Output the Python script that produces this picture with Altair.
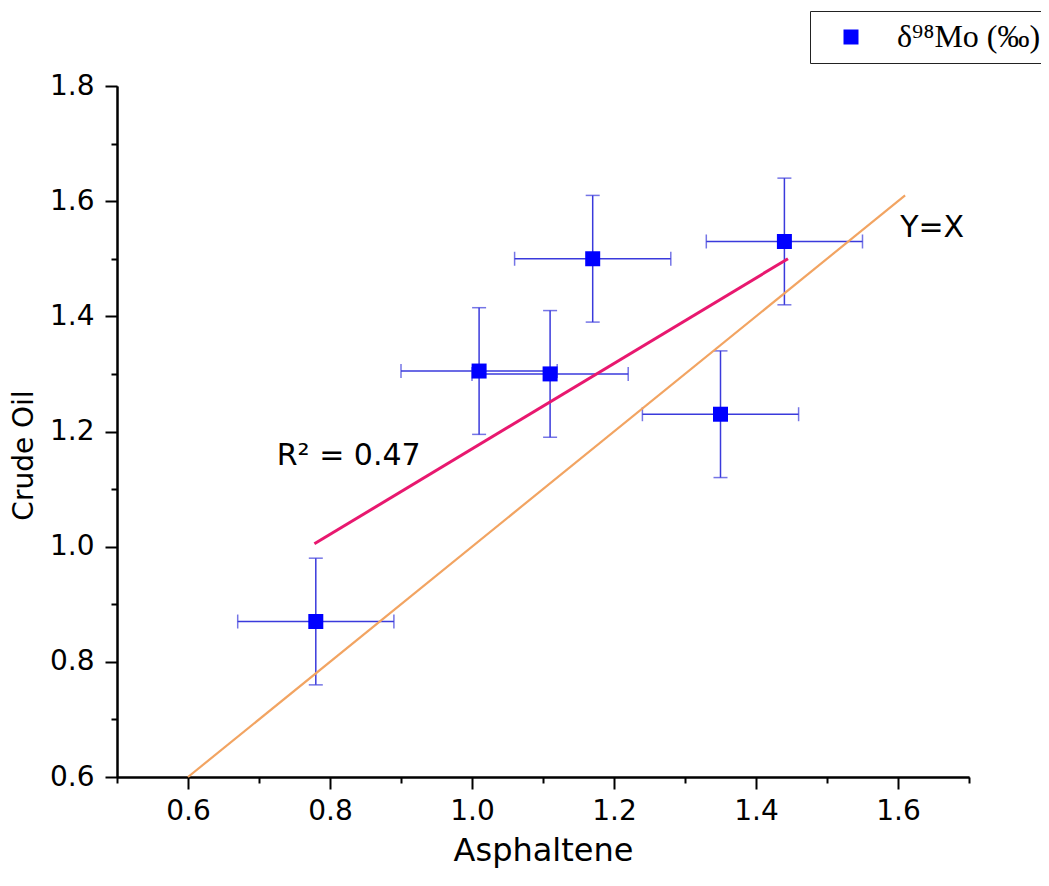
import altair as alt
import pandas as pd

# ---- data ----
asph = [0.78, 1.01, 1.11, 1.17, 1.35, 1.44]          # x: Asphaltene δ98Mo
crude = [0.87, 1.305, 1.30, 1.50, 1.23, 1.53]        # y: Crude oil δ98Mo
asph_err = [0.11, 0.11, 0.11, 0.11, 0.11, 0.11]
crude_err = [0.11, 0.11, 0.11, 0.11, 0.11, 0.11]
series_name = "δ⁹⁸Mo (‰)"

fit_x = [0.778, 1.445]        # regression line ends
fit_y = [1.005, 1.500]
yx_x = [0.6, 1.61]            # Y = X reference line
yx_y = [0.6, 1.61]

ann_text = ["R² = 0.47", "Y=X"]
ann_x = [0.725, 1.603]
ann_y = [1.142, 1.538]

x_major = [0.6, 0.8, 1.0, 1.2, 1.4, 1.6]
x_minor = [0.5, 0.7, 0.9, 1.1, 1.3, 1.5, 1.7]
y_major = [0.6, 0.8, 1.0, 1.2, 1.4, 1.6, 1.8]
y_minor = [0.7, 0.9, 1.1, 1.3, 1.5, 1.7]

# ---- tables ----
df = pd.DataFrame({"asph": asph, "crude": crude, "ex": asph_err, "ey": crude_err,
                   "series": [series_name] * len(asph)})
df["xlo"] = df["asph"] - df["ex"]
df["xhi"] = df["asph"] + df["ex"]
df["ylo"] = df["crude"] - df["ey"]
df["yhi"] = df["crude"] + df["ey"]
df_fit = pd.DataFrame({"x": fit_x, "y": fit_y})
df_yx = pd.DataFrame({"x": yx_x, "y": yx_y})
df_ann = pd.DataFrame({"x": ann_x, "y": ann_y, "t": ann_text})

FONT = "DejaVu Sans"
xsc = alt.Scale(domain=[0.5, 1.7], nice=False, zero=False)
ysc = alt.Scale(domain=[0.6, 1.8], nice=False, zero=False)

x_major_axis = alt.Axis(orient="bottom", values=x_major, format=".1f", grid=False,
                        tickSize=12, tickWidth=2, tickColor="black",
                        domainWidth=2, domainColor="black",
                        labelFont=FONT, labelFontSize=28, labelColor="black", labelPadding=8,
                        title="Asphaltene", titleFont=FONT, titleFontSize=32,
                        titleFontWeight="normal", titleColor="black", titlePadding=10)
y_major_axis = alt.Axis(orient="left", values=y_major, format=".1f", grid=False,
                        tickSize=12, tickWidth=2, tickColor="black",
                        domainWidth=2, domainColor="black",
                        labelFont=FONT, labelFontSize=28, labelColor="black", labelPadding=11,
                        title="Crude Oil", titleFont=FONT, titleFontSize=28,
                        titleFontWeight="normal", titleColor="black", titlePadding=11,
                        titleY=369)
x_minor_axis = alt.Axis(orient="bottom", values=x_minor, labels=False, grid=False,
                        tickSize=6, tickWidth=2, tickColor="black",
                        domainWidth=2, domainColor="black", title=None)
y_minor_axis = alt.Axis(orient="left", values=y_minor, labels=False, grid=False,
                        tickSize=6, tickWidth=2, tickColor="black",
                        domainWidth=2, domainColor="black", title=None)

ERR = "#3A3ADC"

# axis carriers
major = alt.Chart(df_yx).mark_point(opacity=0).encode(
    x=alt.X("x:Q", scale=xsc, axis=x_major_axis),
    y=alt.Y("y:Q", scale=ysc, axis=y_major_axis))
minor = alt.Chart(df_yx).mark_point(opacity=0).encode(
    x=alt.X("x:Q", scale=xsc, axis=x_minor_axis),
    y=alt.Y("y:Q", scale=ysc, axis=y_minor_axis))

base = alt.Chart(df)
h_bar = base.mark_rule(color=ERR, strokeWidth=1.5).encode(
    x=alt.X("xlo:Q", scale=xsc, axis=None), x2="xhi:Q",
    y=alt.Y("crude:Q", scale=ysc, axis=None))
v_bar = base.mark_rule(color=ERR, strokeWidth=1.5).encode(
    x=alt.X("asph:Q", scale=xsc, axis=None),
    y=alt.Y("ylo:Q", scale=ysc, axis=None), y2="yhi:Q")
cap_l = base.mark_tick(orient="vertical", color=ERR, size=14, thickness=1.5).encode(
    x=alt.X("xlo:Q", scale=xsc, axis=None), y=alt.Y("crude:Q", scale=ysc, axis=None))
cap_r = base.mark_tick(orient="vertical", color=ERR, size=14, thickness=1.5).encode(
    x=alt.X("xhi:Q", scale=xsc, axis=None), y=alt.Y("crude:Q", scale=ysc, axis=None))
cap_b = base.mark_tick(orient="horizontal", color=ERR, size=14, thickness=1.5).encode(
    x=alt.X("asph:Q", scale=xsc, axis=None), y=alt.Y("ylo:Q", scale=ysc, axis=None))
cap_t = base.mark_tick(orient="horizontal", color=ERR, size=14, thickness=1.5).encode(
    x=alt.X("asph:Q", scale=xsc, axis=None), y=alt.Y("yhi:Q", scale=ysc, axis=None))

yx_line = alt.Chart(df_yx).mark_line(color="#F2A462", strokeWidth=2.2).encode(
    x=alt.X("x:Q", scale=xsc, axis=None), y=alt.Y("y:Q", scale=ysc, axis=None))
fit_line = alt.Chart(df_fit).mark_line(color="#E8186F", strokeWidth=3).encode(
    x=alt.X("x:Q", scale=xsc, axis=None), y=alt.Y("y:Q", scale=ysc, axis=None))

points = base.mark_square(size=225, opacity=1).encode(
    x=alt.X("asph:Q", scale=xsc, axis=None),
    y=alt.Y("crude:Q", scale=ysc, axis=None),
    color=alt.Color("series:N", title=None,
                    scale=alt.Scale(domain=[series_name], range=["#0000FF"]),
                    legend=alt.Legend(orient="none", legendX=693, legendY=-75,
                                      symbolType="square", symbolSize=225,
                                      symbolStrokeWidth=0, symbolOpacity=1,
                                      labelFont="Liberation Serif", labelFontSize=32,
                                      labelColor="black", labelLimit=400,
                                      strokeColor="#222222", fillColor="white",
                                      padding=10, symbolOffset=15, labelOffset=30)))

texts = alt.Chart(df_ann).mark_text(align="left", baseline="alphabetic", font=FONT,
                                    fontSize=30, color="black").encode(
    x=alt.X("x:Q", scale=xsc, axis=None), y=alt.Y("y:Q", scale=ysc, axis=None),
    text="t:N")

chart = alt.layer(major, minor, h_bar, v_bar, cap_l, cap_r, cap_b, cap_t,
                  yx_line, fit_line, points, texts).resolve_axis(
    x="independent", y="independent").properties(
    width=852, height=691, autosize="none",
    padding={"left": 109, "top": 78, "right": 72, "bottom": 101},
    background="white").configure_view(stroke=None)

chart.save("out.html", embed_options={"renderer": "svg", "actions": False})
